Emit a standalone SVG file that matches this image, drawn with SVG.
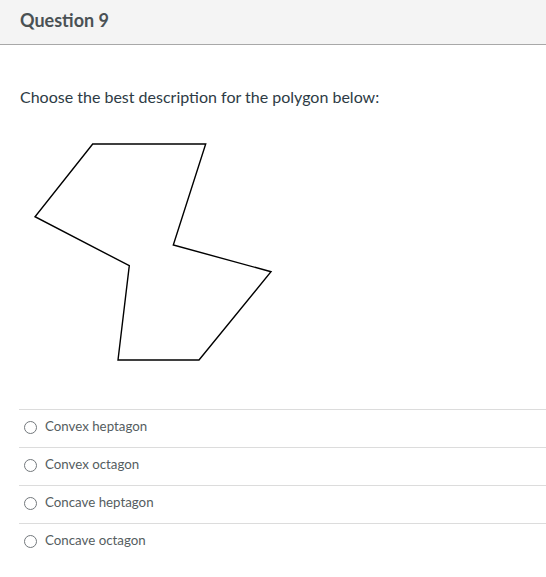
<svg xmlns="http://www.w3.org/2000/svg" width="546" height="577" viewBox="0 0 546 577">
<style>
.opt{font-family:Lato,"Liberation Sans",sans-serif;font-size:13.3px;fill:#555d61}
.sep{stroke:#dcdcdc;stroke-width:1}
.radio{fill:#fff;stroke:#73787c;stroke-width:1}
</style>
<rect x="0" y="0" width="546" height="577" fill="#fff"/>
<g id="header">
<rect x="0" y="0" width="546" height="44" fill="#f4f4f4"/>
<line x1="0" y1="44.5" x2="546" y2="44.5" stroke="#a8a8a8" stroke-width="1"/>
<text x="20" y="27" font-family="Lato,'Liberation Sans',sans-serif" font-size="18" font-weight="700" fill="#4a5154">Question 9</text>
</g>
<text x="20" y="103" font-family="Lato,'Liberation Sans',sans-serif" font-size="16" fill="#2d3b45">Choose the best description for the polygon below:</text>
<g id="polygon">
<polygon points="92.7,144 205.7,144 173.3,245 271,271.7 199,360 118,360 129.3,265.7 35,216.7" fill="none" stroke="#000" stroke-width="1.4"/>
</g>
<g id="options">
<line class="sep" x1="19" y1="409.5" x2="546" y2="409.5"/>
<circle class="radio" cx="30.5" cy="427.5" r="6"/>
<text class="opt" x="45" y="431">Convex heptagon</text>
<line class="sep" x1="19" y1="447.5" x2="546" y2="447.5"/>
<circle class="radio" cx="30.5" cy="465.5" r="6"/>
<text class="opt" x="45" y="469">Convex octagon</text>
<line class="sep" x1="19" y1="485.5" x2="546" y2="485.5"/>
<circle class="radio" cx="30.5" cy="503.5" r="6"/>
<text class="opt" x="45" y="507">Concave heptagon</text>
<line class="sep" x1="19" y1="523.5" x2="546" y2="523.5"/>
<circle class="radio" cx="30.5" cy="541.5" r="6"/>
<text class="opt" x="45" y="545">Concave octagon</text>
</g>
</svg>
